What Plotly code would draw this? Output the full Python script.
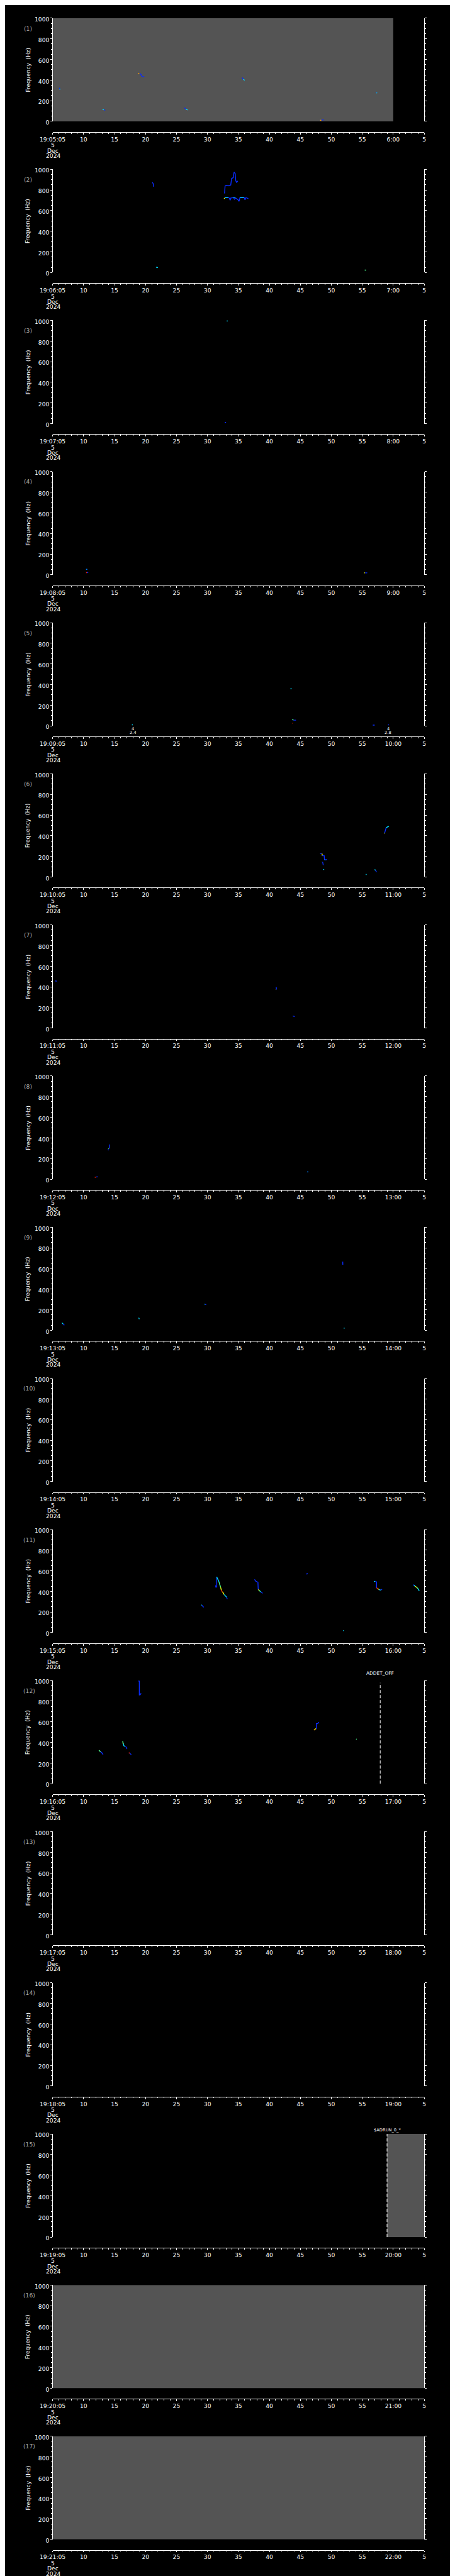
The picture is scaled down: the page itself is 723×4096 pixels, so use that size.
import plotly.graph_objects as go

# ---------------- data ----------------
start_labels = ["19:05:05", "19:06:05", "19:07:05", "19:08:05", "19:09:05", "19:10:05",
                "19:11:05", "19:12:05", "19:13:05", "19:14:05", "19:15:05", "19:16:05",
                "19:17:05", "19:18:05", "19:19:05", "19:20:05", "19:21:05"]
minute_labels = ["6:00", "7:00", "8:00", "9:00", "10:00", "11:00", "12:00", "13:00", "14:00",
                 "15:00", "16:00", "17:00", "18:00", "19:00", "20:00", "21:00", "22:00"]
sec_labels = ["10", "15", "20", "25", "30", "35", "40", "45", "50", "55"]
end_label = "5"
date_lines = ["5", "Dec", "2024"]
freq_ticks = [0, 200, 400, 600, 800, 1000]
freq_minor = list(range(0, 1001, 50))
sec_major = list(range(0, 61, 5))
sec_minor = list(range(0, 61, 1))

# no-data (gray) intervals: panel, start s, end s
gray_panel = [1, 15, 16, 17]
gray_t0 = [0.0, 54.0, 0.0, 0.0]
gray_t1 = [55.0, 60.0, 60.0, 60.0]

# event markers (dashed lines)
event_panel = [12, 15]
event_t = [52.9, 54.0]
event_label = ["ADDET_OFF", "$ADRUN_0_*"]

# small numeric annotations under panel 5
note_panel = [5, 5]
note_t = [12.95, 54.2]
note_l1 = ["4", "4"]
note_l2 = ["2.4", "2.8"]

# spectral features: panel, colour key, times (s after start), frequencies (Hz)
seg_panel = []
seg_color = []
seg_t = []
seg_f = []


def seg(p, c, t, f):
    seg_panel.append(p)
    seg_color.append(c)
    seg_t.append(t)
    seg_f.append(f)


# panel 1
seg(1, "b", [1.10, 1.15], [325, 314]); seg(1, "c", [1.15, 1.20], [314, 308])
seg(1, "c", [8.06, 8.30], [115, 112]); seg(1, "b", [8.30, 8.50], [112, 107])
seg(1, "o", [13.8, 14.0], [466, 464]); seg(1, "b", [14.05, 14.1, 14.3, 14.45, 14.8], [463, 463, 451, 433, 433])
seg(1, "b", [21.3, 21.5], [132, 118]); seg(1, "c", [21.5, 21.8], [118, 110])
seg(1, "b", [30.6, 30.8], [423, 408]); seg(1, "c", [30.8, 31.0], [408, 397])
seg(1, "o", [43.2, 43.4], [10, 10]); seg(1, "b", [43.4, 43.8], [12, 14])
seg(1, "b", [52.2, 52.3], [279, 277]); seg(1, "c", [52.3, 52.4], [277, 275])
# panel 2
seg(2, "b", [16.1, 16.25, 16.3], [874, 860, 831])
seg(2, "b", [27.76, 27.85, 28.03, 28.35, 28.76, 28.9, 29.17, 29.3, 29.48, 29.57, 29.71, 29.9],
    [766, 840, 844, 840, 847, 911, 919, 973, 959, 890, 873, 887])
seg(2, "y", [27.67, 27.8], [716, 721])
seg(2, "b", [27.8, 28.35, 28.53, 28.67, 28.76, 29.21, 29.35, 29.57, 29.94, 30.1, 30.25, 30.93, 31.07, 31.2, 31.6],
    [726, 726, 721, 700, 721, 726, 710, 721, 704, 690, 726, 726, 704, 726, 716])
seg(2, "c", [27.8, 28.35], [726, 726]); seg(2, "c", [29.21, 29.5], [726, 726]); seg(2, "c", [30.25, 30.9], [726, 726])
seg(2, "c", [16.7, 17.0], [51, 47])
seg(2, "g", [50.4, 50.6], [23, 23])
# panel 3
seg(3, "c", [28.1, 28.3], [995, 995])
seg(3, "b", [27.8, 28.0], [11, 11])
# panel 4
seg(4, "lb", [5.4, 5.6], [52, 52])
seg(4, "r", [5.4, 5.55], [20, 20]); seg(4, "b", [5.55, 5.75], [20, 22])
seg(4, "y", [50.3, 50.45], [18, 18]); seg(4, "b", [50.45, 50.8], [18, 18])
# panel 5
seg(5, "c", [12.8, 12.95], [10, 10])
seg(5, "c", [38.4, 38.6], [360, 360])
seg(5, "g", [38.7, 38.9], [62, 55]); seg(5, "b", [38.9, 39.3], [55, 55])
seg(5, "r", [38.7, 38.75], [23, 26])
seg(5, "b", [51.7, 52.0], [7, 7])
seg(5, "b", [54.15, 54.3], [10, 10])
# panel 6
seg(6, "b", [43.2, 43.45], [230, 228]); seg(6, "y", [43.5, 43.55], [226, 206])
seg(6, "b", [43.55, 43.85, 43.9], [206, 206, 166]); seg(6, "c", [43.9, 44.0], [166, 166])
seg(6, "b", [44.0, 44.3], [166, 169])
seg(6, "c", [43.5, 43.55], [145, 145]); seg(6, "b", [43.6, 43.7], [145, 114])
seg(6, "c", [43.7, 43.85], [72, 72])
seg(6, "c", [50.55, 50.7], [24, 24])
seg(6, "c", [52.0, 52.15], [72, 65]); seg(6, "b", [52.15, 52.3], [65, 47])
seg(6, "y", [53.5, 53.6], [424, 424]); seg(6, "b", [53.6, 53.85], [424, 477])
seg(6, "c", [53.85, 54.05, 54.3], [477, 483, 493])
# panel 7
seg(7, "b", [0.4, 0.7], [457, 455])
seg(7, "b", [36.1, 36.15], [399, 374]); seg(7, "y", [36.05, 36.1], [374, 374])
seg(7, "b", [38.8, 39.1], [117, 112])
# panel 8
seg(8, "b", [8.96, 9.0], [280, 290]); seg(8, "g", [9.0, 9.1], [296, 299]); seg(8, "b", [9.15, 9.2], [299, 337])
seg(8, "r", [6.8, 7.05], [19, 19]); seg(8, "b", [7.05, 7.3], [22, 24])
seg(8, "lb", [41.1, 41.3], [71, 71])
# panel 9
seg(9, "c", [1.5, 1.7], [73, 62]); seg(9, "b", [1.7, 1.9], [62, 50])
seg(9, "c", [13.9, 14.0], [122, 109])
seg(9, "c", [24.5, 24.65], [254, 254]); seg(9, "b", [24.65, 24.8], [252, 249])
seg(9, "b", [46.85, 46.86], [667, 636])
seg(9, "c", [47.0, 47.15], [21, 21])
# panel 11
seg(11, "c", [24.0, 24.1], [269, 265]); seg(11, "b", [24.1, 24.4], [265, 245])
seg(11, "b", [26.3, 26.38], [458, 437]); seg(11, "b", [26.5, 26.5], [437, 539])
seg(11, "c", [26.5, 26.65, 26.85], [539, 523, 494]); seg(11, "g", [26.85, 26.97, 27.13], [494, 471, 438])
seg(11, "y", [27.13, 27.25], [438, 410]); seg(11, "r", [27.25, 27.35], [410, 398])
seg(11, "o", [27.35, 27.49], [398, 390]); seg(11, "y", [27.49, 27.69], [390, 369])
seg(11, "c", [27.69, 27.93, 28.09], [369, 356, 344]); seg(11, "b", [28.09, 28.2], [344, 325])
seg(11, "b", [32.6, 32.8, 33.1], [515, 498, 490]); seg(11, "b", [33.15, 33.2], [490, 417])
seg(11, "y", [33.2, 33.35], [417, 409]); seg(11, "g", [33.35, 33.5], [409, 400])
seg(11, "c", [33.5, 33.67], [400, 393]); seg(11, "b", [33.67, 33.9], [393, 380])
seg(11, "b", [40.96, 41.2], [568, 571])
seg(11, "c", [51.87, 52.1], [495, 497]); seg(11, "b", [52.1, 52.27], [497, 495])
seg(11, "b", [52.3, 52.3], [495, 433]); seg(11, "r", [52.3, 52.45], [433, 430])
seg(11, "o", [52.45, 52.67], [430, 417]); seg(11, "c", [52.67, 52.99], [417, 412])
seg(11, "b", [52.99, 53.2], [412, 420])
seg(11, "b", [58.2, 58.35], [463, 460]); seg(11, "c", [58.35, 58.55], [460, 448])
seg(11, "y", [58.55, 58.8], [448, 438]); seg(11, "g", [58.8, 59.0], [438, 425])
seg(11, "c", [59.0, 59.2], [425, 404])
seg(11, "c", [46.9, 47.0], [19, 19])
# panel 12
seg(12, "g", [7.47, 7.74], [324, 310]); seg(12, "b", [7.74, 7.93, 8.15], [310, 301, 283])
seg(12, "g", [11.3, 11.4], [411, 390]); seg(12, "y", [11.35, 11.4], [395, 385])
seg(12, "c", [11.4, 11.5, 11.7], [390, 369, 361]); seg(12, "b", [11.7, 11.9, 12.0], [361, 354, 336])
seg(12, "r", [12.3, 12.45], [301, 296]); seg(12, "b", [12.45, 12.7], [296, 281])
seg(12, "b", [13.8, 14.0, 14.0, 14.1, 14.3], [996, 996, 861, 861, 876])
seg(12, "o", [42.2, 42.4], [519, 530]); seg(12, "y", [42.4, 42.55], [530, 533])
seg(12, "b", [42.6, 42.6, 42.8, 43.0], [533, 583, 583, 597])
seg(12, "g", [49.0, 49.1], [434, 431])

# ---------------- styling / geometry ----------------
palette = {"b": "#0a2cff", "lb": "#0080ff", "c": "#00dcff", "g": "#50ff90",
           "y": "#f4ff00", "o": "#ffa000", "r": "#ff2000"}
REF_W, REF_H = 1024.0, 5802.0
S = 723.0 / REF_W
N = 17
TOP0, STEP, PH = 24.0, 341.3, 233.0
XL, XR = 80.0, 945.0
GAP = 24.0
FONT = "DejaVu Sans"
FS = 13.0 * S


def xp(x):
    return x / REF_W


def yp(y):
    return 1.0 - y / REF_H


def names(k):
    return ("x" if k == 1 else "x%d" % k), ("y" if k == 1 else "y%d" % k)


fig = go.Figure()
layout = dict(width=723, height=4096, margin=dict(l=0, r=0, t=0, b=0),
              paper_bgcolor="black", plot_bgcolor="black", showlegend=False)
annotations = []

for k in range(1, N + 1):
    top = TOP0 + (k - 1) * STEP
    bot = top + PH
    xn, yn = names(k)
    xkey = "xaxis" if k == 1 else "xaxis%d" % k
    ykey = "yaxis" if k == 1 else "yaxis%d" % k
    ticktext = [start_labels[k - 1]] + sec_labels + [minute_labels[k - 1], end_label]
    layout[xkey] = dict(
        domain=[xp(XL), xp(XR)], range=[0, 60], anchor="free", position=yp(bot + GAP),
        showline=True, linecolor="white", linewidth=1, showgrid=False, zeroline=False,
        ticks="outside", ticklen=4 * S, tickwidth=1, tickcolor="white",
        tickmode="array", tickvals=sec_major, ticktext=ticktext,
        tickfont=dict(family=FONT, size=FS, color="white"), tickangle=0,
        minor=dict(tickmode="array", tickvals=sec_minor, ticks="outside", ticklen=2.5 * S,
                   tickcolor="white", tickwidth=1, showgrid=False),
        fixedrange=True)
    layout[ykey] = dict(
        domain=[yp(bot), yp(top)], range=[0, 1000], anchor=xn,
        showline=True, linecolor="white", linewidth=1, mirror="ticks",
        showgrid=False, zeroline=False,
        ticks="outside", ticklen=3.5 * S, tickwidth=1, tickcolor="white",
        tickmode="array", tickvals=freq_ticks, ticktext=[str(v) for v in freq_ticks],
        tickfont=dict(family=FONT, size=FS, color="white"), ticklabelshift=2,
        minor=dict(tickmode="array", tickvals=freq_minor, ticks="outside", ticklen=2.2 * S,
                   tickcolor="white", tickwidth=1, showgrid=False),
        fixedrange=True)
    # invisible trace so every panel's axes are drawn
    fig.add_trace(go.Scatter(x=[None], y=[None], xaxis=xn, yaxis=yn, mode="lines", hoverinfo="skip"))
    # panel label and axis title
    annotations.append(dict(x=xp(22 if k < 10 else 25), y=yp(top + 23), xref="paper", yref="paper",
                            text="(%d)" % k, showarrow=False, xanchor="center", yanchor="middle",
                            font=dict(family=FONT, size=FS, color="#a8a8a8")))
    annotations.append(dict(x=xp(23), y=yp(top + PH / 2), xref="paper", yref="paper",
                            text="Frequency  (Hz)", textangle=-90, showarrow=False,
                            xanchor="center", yanchor="middle",
                            font=dict(family=FONT, size=FS * 0.98, color="white")))
    axis_y = bot + GAP
    for j, line in enumerate(date_lines):
        annotations.append(dict(x=xp(XL + 1), y=yp(axis_y + 29.7 + 11.8 * j), xref="paper", yref="paper",
                                text=line, showarrow=False, xanchor="center", yanchor="middle",
                                font=dict(family=FONT, size=FS, color="white")))

# gray no-data regions
for p, t0, t1 in zip(gray_panel, gray_t0, gray_t1):
    xn, yn = names(p)
    fig.add_trace(go.Scatter(x=[t0, t1, t1, t0, t0], y=[0, 0, 1000, 1000, 0], xaxis=xn, yaxis=yn,
                             mode="lines", fill="toself", fillcolor="#545454",
                             line=dict(width=0, color="#545454"), hoverinfo="skip"))

# spectral features
for p, c, t, f in zip(seg_panel, seg_color, seg_t, seg_f):
    xn, yn = names(p)
    fig.add_trace(go.Scatter(x=t, y=f, xaxis=xn, yaxis=yn, mode="lines",
                             line=dict(color=palette[c], width=1.4), hoverinfo="skip"))

# event lines
label_off = {12: 17.0, 15: 8.0}
label_size = {12: 10.5 * S, 15: 9.5 * S}
for p, t, lab in zip(event_panel, event_t, event_label):
    xn, yn = names(p)
    top = TOP0 + (p - 1) * STEP
    fig.add_trace(go.Scatter(x=[t, t], y=[0, 1000 if p == 15 else 978], xaxis=xn, yaxis=yn, mode="lines",
                             line=dict(color="white", width=1, dash="5px,3px"), hoverinfo="skip"))
    annotations.append(dict(x=t, y=yp(top - label_off[p]), xref=xn, yref="paper", text=lab,
                            showarrow=False, xanchor="center", yanchor="middle",
                            font=dict(family=FONT, size=label_size[p], color="white")))

# numeric notes (panel 5)
for p, t, l1, l2 in zip(note_panel, note_t, note_l1, note_l2):
    xn, yn = names(p)
    bot = TOP0 + (p - 1) * STEP + PH
    annotations.append(dict(x=t, y=yp(bot + 6.5), xref=xn, yref="paper", text=l1, showarrow=False,
                            xanchor="center", yanchor="middle",
                            font=dict(family=FONT, size=9.5 * S, color="white")))
    annotations.append(dict(x=t, y=yp(bot + 16), xref=xn, yref="paper", text=l2, showarrow=False,
                            xanchor="center", yanchor="middle",
                            font=dict(family=FONT, size=9.5 * S, color="white")))

layout["annotations"] = annotations
fig.update_layout(**layout)
fig.write_html("out.html")
